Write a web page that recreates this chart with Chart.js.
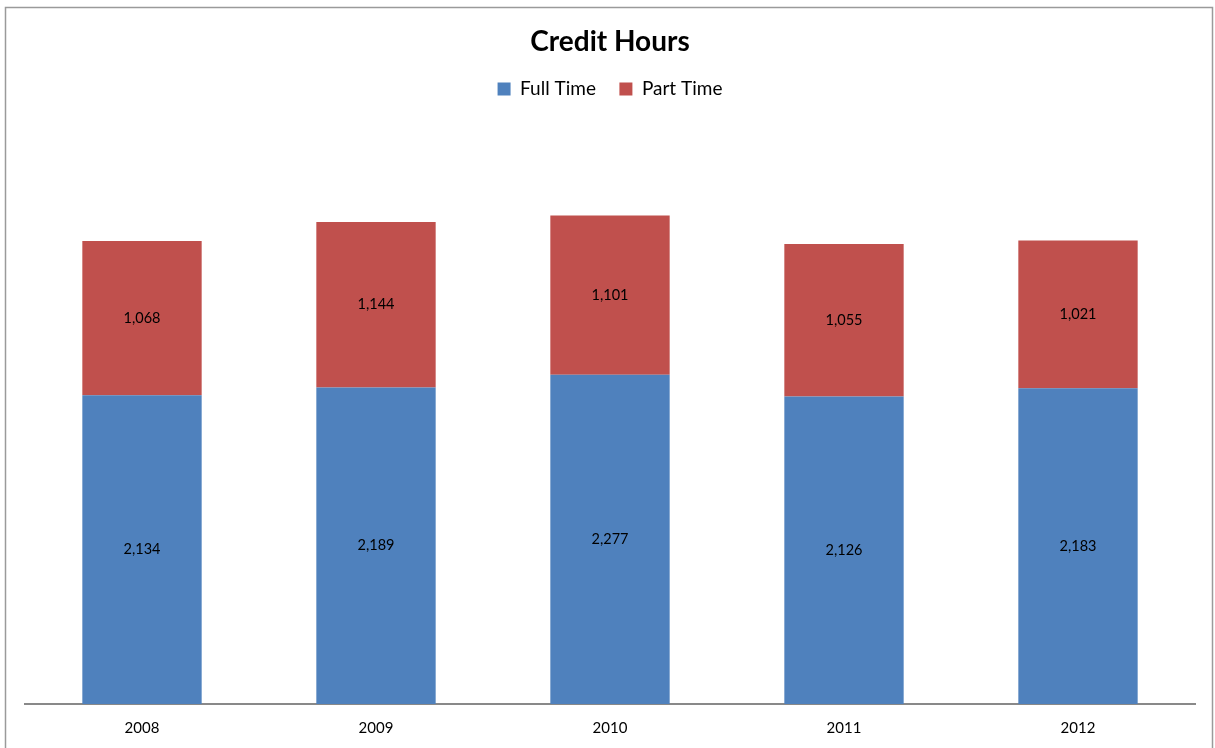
<!DOCTYPE html>
<html>
<head>
<meta charset="utf-8">
<script src="https://cdn.jsdelivr.net/npm/chart.js@4.4.1/dist/chart.umd.min.js"></script>
<style>
  html, body { margin: 0; padding: 0; background: #fff; }
  #wrap { width: 1215px; height: 748px; position: relative; }
</style>
</head>
<body>
<div id="wrap"><canvas id="credit"></canvas></div>
<script>
const years = ['2008', '2009', '2010', '2011', '2012'];
const fullTime = [2134, 2189, 2277, 2126, 2183];
const partTime = [1068, 1144, 1101, 1055, 1021];

// labels in the middle of each bar segment
const barLabels = {
    id: 'barLabels',
    afterDatasetsDraw(chart) {
        const ctx = chart.ctx;
        ctx.save();
        ctx.font = '14.5px Lato';
        ctx.fillStyle = '#000';
        ctx.textAlign = 'center';
        ctx.textBaseline = 'middle';
        chart.data.datasets.forEach((ds, i) => {
            chart.getDatasetMeta(i).data.forEach((bar, j) => {
                const mid = (bar.y + bar.base) / 2;
                ctx.fillText(ds.data[j].toLocaleString('en-US'), bar.x, mid);
            });
        });
        ctx.restore();
    }
};

// thin grey frame round the chart
const frame = {
    id: 'frame',
    beforeDraw(chart) {
        const ctx = chart.ctx;
        ctx.save();
        ctx.strokeStyle = '#9a9a9a';
        ctx.lineWidth = 1.5;
        ctx.strokeRect(5.5, 7.5, 1207, 760);
        ctx.restore();
    }
};

// a bit more room under the legend
const legendGap = {
    id: 'legendGap',
    beforeLayout(chart) {
        const lg = chart.legend;
        if (lg && !lg._gapped) {
            const fit = lg.fit;
            lg.fit = function () {
                fit.call(this);
                this.height += 17;
            };
            lg._gapped = true;
        }
    }
};

new Chart(document.getElementById('credit'), {
    type: 'bar',
    data: {
        labels: years,
        datasets: [{
            label: 'Full Time',
            data: fullTime,
            backgroundColor: '#4F81BD',
            barPercentage: 0.51,
            categoryPercentage: 1
        }, {
            label: 'Part Time',
            data: partTime,
            backgroundColor: '#C0504D',
            barPercentage: 0.51,
            categoryPercentage: 1
        }]
    },
    options: {
        responsive: true,
        maintainAspectRatio: false,
        animation: false,
        layout: {
            padding: { left: 25, right: 20, top: 0, bottom: 4 }
        },
        plugins: {
            title: {
                display: true,
                text: 'Credit Hours',
                color: '#000',
                font: { family: 'Lato', size: 28, weight: 'bold', lineHeight: 1 },
                padding: { top: 28, bottom: 0 }
            },
            legend: {
                labels: {
                    color: '#000',
                    font: { family: 'Lato', size: 19 },
                    boxWidth: 13,
                    boxHeight: 13,
                    padding: 23.5
                }
            },
            tooltip: { enabled: false }
        },
        scales: {
            x: {
                stacked: true,
                grid: { display: false },
                border: { display: true, color: '#898989', width: 2 },
                ticks: {
                    color: '#000',
                    font: { family: 'Lato', size: 15 },
                    padding: 7
                }
            },
            y: {
                stacked: true,
                display: false,
                min: 0,
                max: 4000
            }
        }
    },
    plugins: [barLabels, frame, legendGap]
});
</script>
</body>
</html>
